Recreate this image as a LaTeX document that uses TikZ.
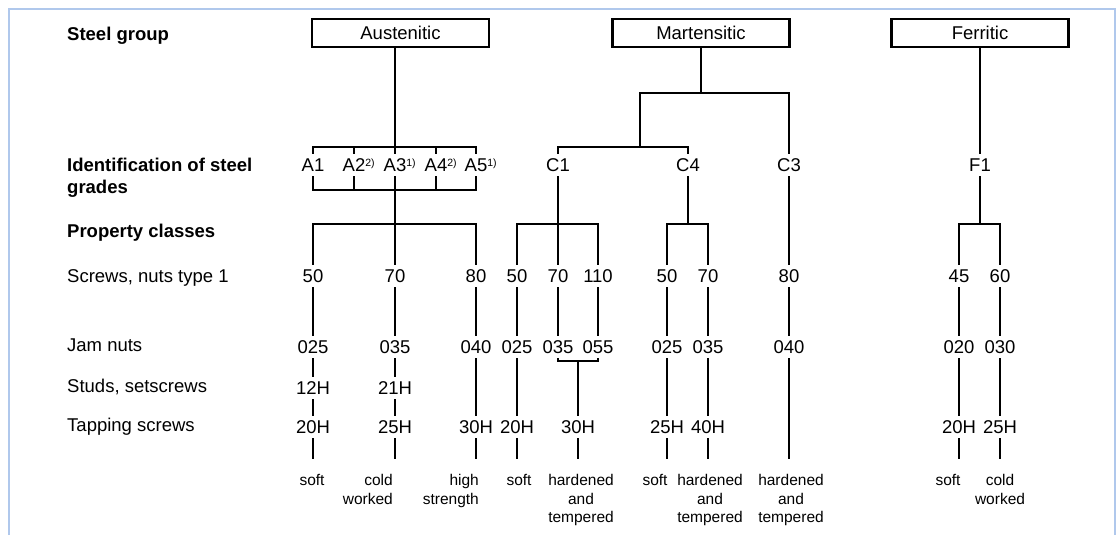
\documentclass[tikz,border=0pt]{standalone}
\usepackage{fontspec}
\setmainfont{Liberation Sans}
\newcommand\supx[1]{\rlap{\raisebox{5.5pt}{\fontsize{10.5pt}{10.5pt}\selectfont #1}}}
\definecolor{framecol}{RGB}{176,200,236}
\begin{document}
\begin{tikzpicture}[x=1pt,y=-1pt,
  conn/.style={line width=2.5pt,black},
  framestyle/.style={line width=2.5pt,framecol},
  grpbox/.style={draw,line width=2.3pt,minimum width=177pt,minimum height=28pt,inner sep=0pt,font=\fontsize{18.5pt}{22pt}\selectfont},
  val/.style={inner sep=0pt,text height=13pt,text depth=0pt,minimum height=22pt,font=\fontsize{18.5pt}{22pt}\selectfont},
  rowlabel/.style={inner sep=0pt,anchor=base west,font=\fontsize{18.5pt}{21.5pt}\selectfont},
  headlabel/.style={rowlabel,font=\fontsize{18.5pt}{21.5pt}\selectfont\bfseries},
  note/.style={inner sep=0pt,anchor=base,font=\fontsize{15.5pt}{18.5pt}\selectfont},
  noter/.style={note,anchor=base east}
]
\useasboundingbox (0,0) rectangle (1118,535);
\draw[framestyle] (9,535) -- (9,9) -- (1115,9) -- (1115,535);

% row labels
\node[headlabel] (lg) at (67,40.5) {Steel group};
\node[headlabel] (li) at (67,171.5) {\begin{tabular}[t]{@{}l@{}}Identification of steel\\grades\end{tabular}};
\node[headlabel] (lp) at (67,237.5) {Property classes};
\node[rowlabel] (ls) at (67,282.5) {Screws, nuts type 1};
\node[rowlabel] (lj) at (67,351) {Jam nuts};
\node[rowlabel] (ld) at (67,392) {Studs, setscrews};
\node[rowlabel] (lt) at (67,431.5) {Tapping screws};

% group boxes
\node[grpbox] (aus) at (400.5,33) {Austenitic};
\node[grpbox] (mar) at (701,33) {Martensitic};
\node[grpbox] (fer) at (980,33) {Ferritic};

% steel grades
\node[val] (A1) at (313,165) {A1};
\node[val] (A2) at (354,165) {A2\supx{2)}};
\node[val] (A3) at (395,165) {A3\supx{1)}};
\node[val] (A4) at (436,165) {A4\supx{2)}};
\node[val] (A5) at (476,165) {A5\supx{1)}};
\node[val] (C1) at (558,165) {C1};
\node[val] (C4) at (688,165) {C4};
\node[val] (C3) at (789,165) {C3};
\node[val] (F1) at (980,165) {F1};

% screws, nuts type 1
\node[val] (sa50) at (313,276) {50};
\node[val] (sa70) at (395,276) {70};
\node[val] (sa80) at (476,276) {80};
\node[val] (sm50) at (517,276) {50};
\node[val] (sm70) at (558,276) {70};
\node[val] (sm110) at (598,276) {110};
\node[val] (sn50) at (667,276) {50};
\node[val] (sn70) at (708,276) {70};
\node[val] (sn80) at (789,276) {80};
\node[val] (sf45) at (959,276) {45};
\node[val] (sf60) at (1000,276) {60};

% jam nuts
\node[val] (ja025) at (313,347) {025};
\node[val] (ja035) at (395,347) {035};
\node[val] (ja040) at (476,347) {040};
\node[val] (jm025) at (517,347) {025};
\node[val] (jm035) at (558,347) {035};
\node[val] (jm055) at (598,347) {055};
\node[val] (jn025) at (667,347) {025};
\node[val] (jn035) at (708,347) {035};
\node[val] (jn040) at (789,347) {040};
\node[val] (jf020) at (959,347) {020};
\node[val] (jf030) at (1000,347) {030};

% studs, setscrews
\node[val] (da12) at (313,388) {12H};
\node[val] (da21) at (395,388) {21H};

% tapping screws
\node[val] (ta20) at (313,427) {20H};
\node[val] (ta25) at (395,427) {25H};
\node[val] (ta30) at (476,427) {30H};
\node[val] (tm20) at (517,427) {20H};
\node[val] (tm30) at (578,427) {30H};
\node[val] (tn25) at (667,427) {25H};
\node[val] (tn40) at (708,427) {40H};
\node[val] (tf20) at (959,427) {20H};
\node[val] (tf25) at (1000,427) {25H};

% notes
\node[note] (n1) at (312,485.5) {soft};
\node[noter] (n2) at (393,485.5) {\begin{tabular}[t]{@{}r@{}}cold\\worked\end{tabular}};
\node[noter] (n3) at (479,485.5) {\begin{tabular}[t]{@{}r@{}}high\\strength\end{tabular}};
\node[note] (n4) at (519,485.5) {soft};
\node[note] (n5) at (581,485.5) {\begin{tabular}[t]{@{}c@{}}hardened\\and\\tempered\end{tabular}};
\node[note] (n6) at (655,485.5) {soft};
\node[note] (n7) at (710,485.5) {\begin{tabular}[t]{@{}c@{}}hardened\\and\\tempered\end{tabular}};
\node[note] (n8) at (791,485.5) {\begin{tabular}[t]{@{}c@{}}hardened\\and\\tempered\end{tabular}};
\node[note] (n9) at (948,485.5) {soft};
\node[note] (n10) at (1000,485.5) {\begin{tabular}[t]{@{}c@{}}cold\\worked\end{tabular}};

% helper levels
\coordinate (yab) at (0,147);
\coordinate (ybb) at (0,190);
\coordinate (ypc) at (0,224);
\coordinate (ymj) at (640,93);
\coordinate (ycb) at (640,147);
\coordinate (yjb) at (0,361);
\coordinate (yend) at (0,459);

% Austenitic tree
\draw[conn] (A3 |- aus.south) -- (A3.north);
\draw[conn] (A1.north) -- (A1.north |- yab) -- (A5.north |- yab) -- (A5.north);
\draw[conn] (A2.north) -- (A2.north |- yab);
\draw[conn] (A4.north) -- (A4.north |- yab);
\draw[conn] (A1.south) -- (A1.south |- ybb) -- (A5.south |- ybb) -- (A5.south);
\draw[conn] (A2.south) -- (A2.south |- ybb);
\draw[conn] (A4.south) -- (A4.south |- ybb);
\draw[conn] (A3.south) -- (sa70.north);
\draw[conn] (sa50.north) -- (sa50.north |- ypc) -- (sa80.north |- ypc) -- (sa80.north);

% Martensitic tree
\draw[conn] (mar.south) -- (mar.south |- ymj);
\draw[conn] (C1.north) -- (C1.north |- ycb) -- (C4.north |- ycb) -- (C4.north);
\draw[conn] (ycb) -- (ymj) -- (C3.north |- ymj) -- (C3.north);
\draw[conn] (C1.south) -- (sm70.north);
\draw[conn] (sm50.north) -- (sm50.north |- ypc) -- (sm110.north |- ypc) -- (sm110.north);
\draw[conn] (C4.south) -- (C4.south |- ypc);
\draw[conn] (sn50.north) -- (sn50.north |- ypc) -- (sn70.north |- ypc) -- (sn70.north);
\draw[conn] (C3.south) -- (sn80.north);

% Ferritic tree
\draw[conn] (fer.south) -- (F1.north);
\draw[conn] (F1.south) -- (F1.south |- ypc);
\draw[conn] (sf45.north) -- (sf45.north |- ypc) -- (sf60.north |- ypc) -- (sf60.north);

% screws -> jam nuts
\foreach \s/\j in {sa50/ja025,sa70/ja035,sa80/ja040,sm50/jm025,sm70/jm035,sm110/jm055,sn50/jn025,sn70/jn035,sn80/jn040,sf45/jf020,sf60/jf030}
  \draw[conn] (\s.south) -- (\j.north);

% jam nuts -> studs / tapping
\draw[conn] (ja025.south) -- (da12.north);
\draw[conn] (ja035.south) -- (da21.north);
\draw[conn] (da12.south) -- (ta20.north);
\draw[conn] (da21.south) -- (ta25.north);
\draw[conn] (ja040.south) -- (ta30.north);
\draw[conn] (jm025.south) -- (tm20.north);
\draw[conn] (jm035.south) -- (jm035.south |- yjb) -- (jm055.south |- yjb) -- (jm055.south);
\draw[conn] (tm30.north |- yjb) -- (tm30.north);
\draw[conn] (jn025.south) -- (tn25.north);
\draw[conn] (jn035.south) -- (tn40.north);
\draw[conn] (jn040.south) -- (jn040.south |- yend);
\draw[conn] (jf020.south) -- (tf20.north);
\draw[conn] (jf030.south) -- (tf25.north);

% tapping -> free ends
\foreach \t in {ta20,ta25,ta30,tm20,tm30,tn25,tn40,tf20,tf25}
  \draw[conn] (\t.south) -- (\t.south |- yend);
\end{tikzpicture}
\end{document}
